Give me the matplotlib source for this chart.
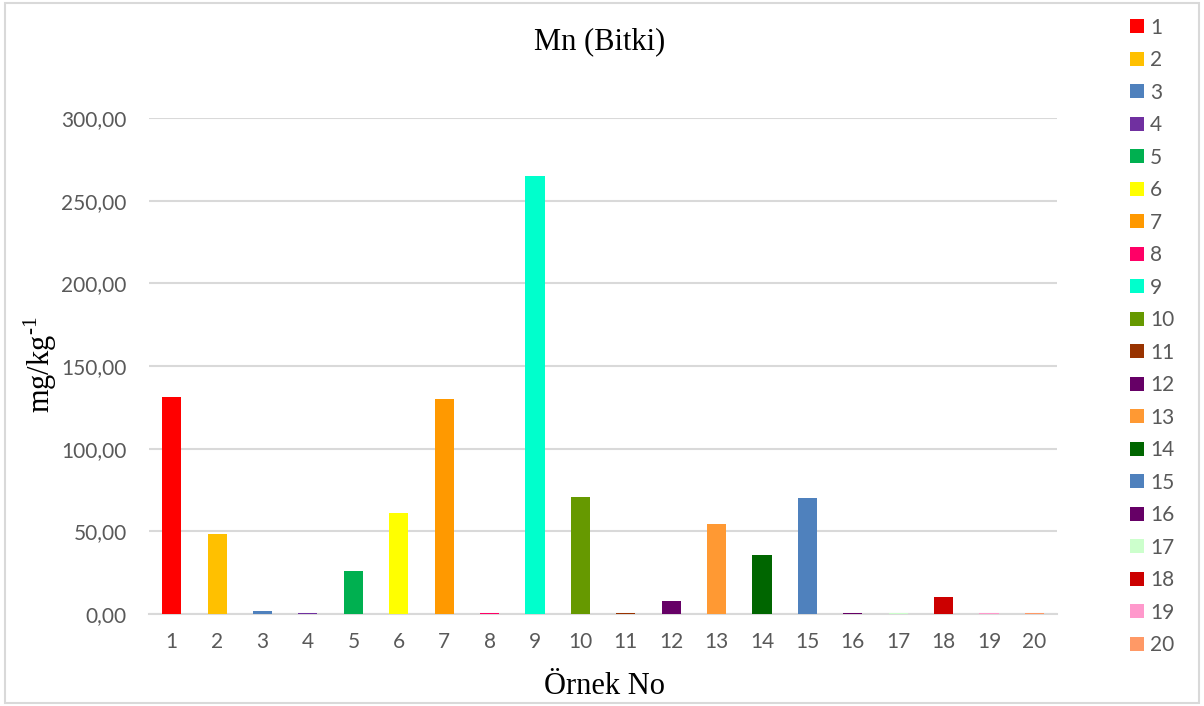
import numpy as np
import matplotlib.pyplot as plt
from matplotlib.ticker import FuncFormatter
from matplotlib.patches import Rectangle

# Mn values in plant samples (mg/kg)
samples = [str(i) for i in range(1, 21)]
mn_values = [131.0, 48.6, 1.8, 0.5, 26.2, 60.8, 130.3, 0.9, 265.2, 70.5,
             0.5, 8.0, 54.2, 35.5, 70.0, 0.6, 0.4, 10.5, 0.5, 0.5]
colors = ['#FF0000', '#FFC000', '#4F81BD', '#7030A0', '#00B050',
          '#FFFF00', '#FF9900', '#FF0066', '#00FFCC', '#669900',
          '#993300', '#660066', '#FF9933', '#006600', '#4F81BD',
          '#660066', '#CCFFCC', '#CC0000', '#FF99CC', '#FF9966']
yticks = [0, 50, 100, 150, 200, 250, 300]

plt.rcParams['font.family'] = ['Lato', 'DejaVu Sans']
plt.rcParams['mathtext.fontset'] = 'custom'
plt.rcParams['mathtext.rm'] = 'Liberation Serif'

fig = plt.figure(figsize=(12.04, 7.06), dpi=100)
ax = fig.add_axes([0.1238, 0.1303, 0.7542, 0.7026])

x = np.arange(1, len(samples) + 1)
handles = []
for xi, v, c, lab in zip(x, mn_values, colors, samples):
    b = ax.bar(xi, v, width=0.42, color=c, label=lab, zorder=3)
    handles.append(b)

ax.set_xlim(0.5, 20.5)
ax.set_ylim(0, 300)
ax.set_yticks(yticks)
ax.set_xticks(x)
ax.set_xticklabels(samples)
ax.yaxis.set_major_formatter(FuncFormatter(lambda v, p: f'{v:.2f}'.replace('.', ',')))
ax.grid(axis='y', color='#d9d9d9', linewidth=1.5, zorder=0)
for s in ['top', 'right', 'left']:
    ax.spines[s].set_visible(False)
ax.spines['bottom'].set_color('#d9d9d9')
ax.spines['bottom'].set_linewidth(1.5)
ax.tick_params(axis='both', length=0, labelsize=15, colors='#595959')
ax.tick_params(axis='y', pad=16)
ax.tick_params(axis='x', pad=13)

fig.text(0.498, 0.9405, 'Mn (Bitki)', family='Liberation Serif', fontsize=22,
         ha='center', va='center')
fig.text(0.502, 0.028, 'Örnek No', family='Liberation Serif', fontsize=22,
         ha='center', va='center')
fig.text(0.033, 0.483, 'mg/kg$^{\\text{-1}}$', family='Liberation Serif',
         fontsize=22, rotation=90, ha='center', va='center')

leg = fig.legend(handles=handles, loc='upper left', bbox_to_anchor=(0.9315, 0.987),
                 frameon=False, fontsize=15, handlelength=0.68, handleheight=0.68,
                 handletextpad=0.3, labelspacing=0.6, borderaxespad=0)
for t in leg.get_texts():
    t.set_color('#595959')

fig.patches.append(Rectangle((0.004, 0.004), 0.992, 0.992, transform=fig.transFigure,
                             fill=False, edgecolor='#d9d9d9', linewidth=1.5))

fig.savefig('out.png', dpi=100)
